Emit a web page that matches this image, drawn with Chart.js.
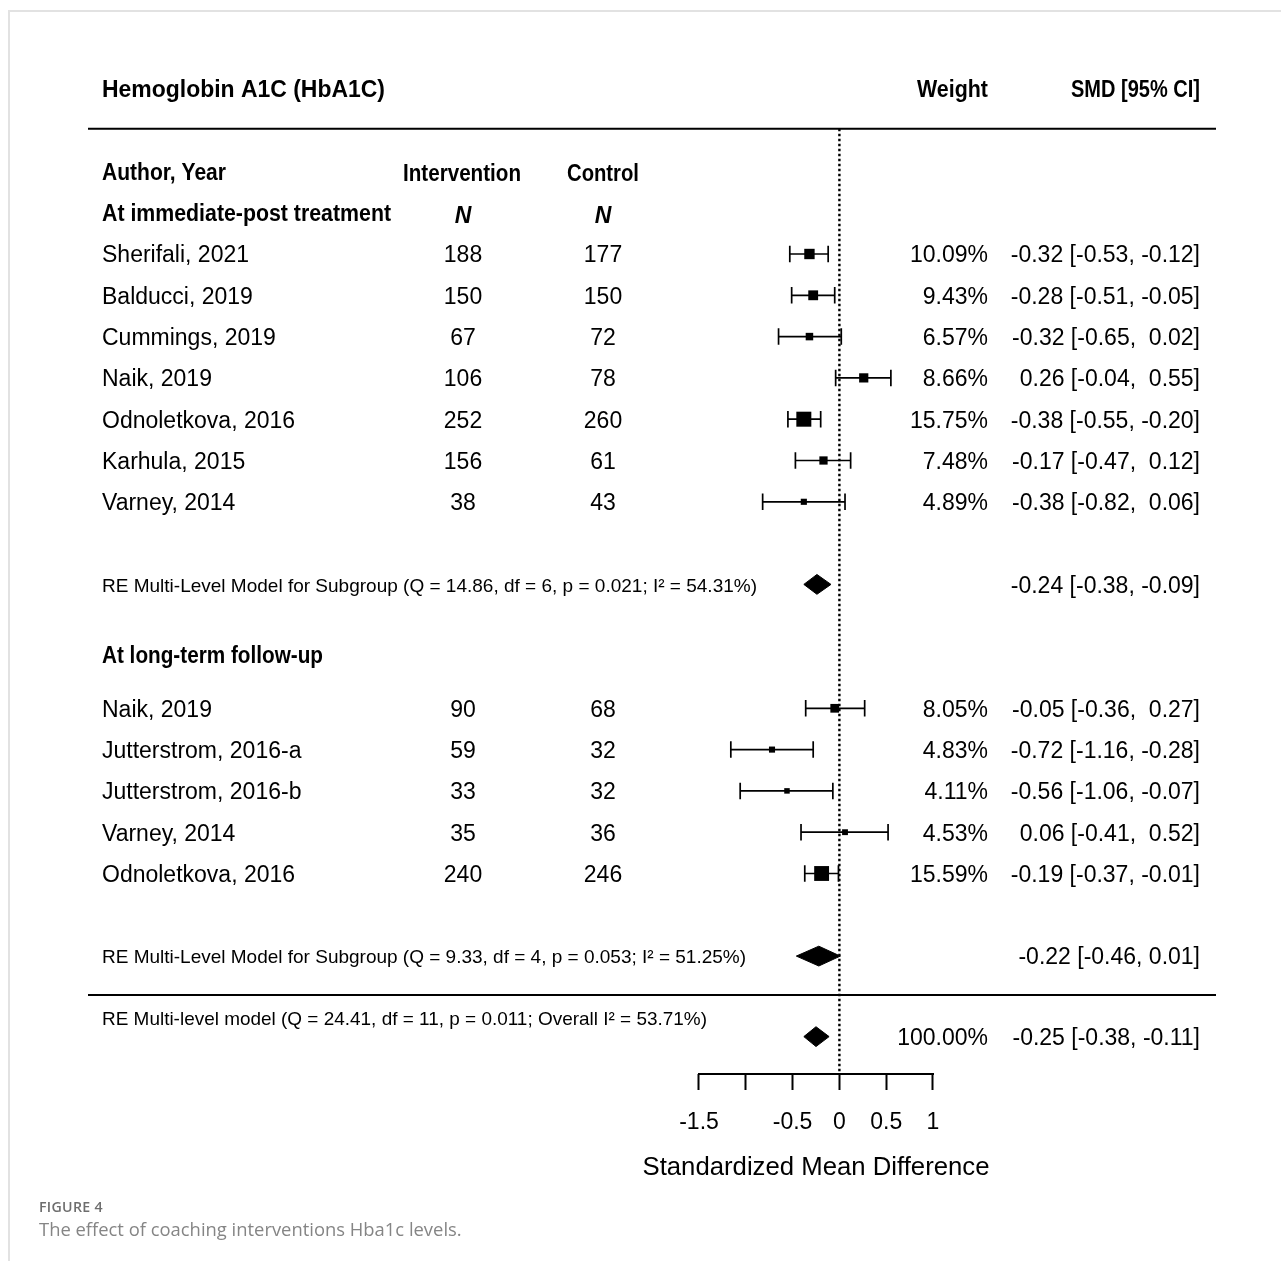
<!DOCTYPE html>
<html lang="en">
<head>
  <meta charset="UTF-8">
  <title>Hemoglobin A1C forest plot</title>
  <script src="https://cdn.jsdelivr.net/npm/chart.js"></script>
  <style>
    html, body { margin: 0; padding: 0; background: #fff; }
    body { width: 1281px; height: 1261px; position: relative; overflow: hidden; }
    #frame {
      position: absolute; left: 8px; top: 10px; right: 0; bottom: 0;
      border-top: 2px solid #e2e2e2; border-left: 2px solid #e2e2e2;
    }
    #forest { position: absolute; left: 0; top: 0; }
    .caption { position: absolute; left: 39px; font-family: "Open Sans", Lato, sans-serif; }
    #figNo { top: 1197px; font-size: 14.2px; font-weight: 600; color: #6e6e6e; letter-spacing: 0.3px; }
    #figText { top: 1216px; font-size: 18.4px; color: #858585; }
  </style>
</head>
<body>
<div id="frame"></div>
<canvas id="forest" width="1281" height="1261"></canvas>
<div class="caption" id="figNo">FIGURE 4</div>
<div class="caption" id="figText">The effect of coaching interventions Hba1c levels.</div>

<script>
  // immediate-post treatment
  const studiesOne = ['Sherifali, 2021', 'Balducci, 2019', 'Cummings, 2019', 'Naik, 2019',
    'Odnoletkova, 2016', 'Karhula, 2015', 'Varney, 2014'];
  const nInterventionOne = [188, 150, 67, 106, 252, 156, 38];
  const nControlOne = [177, 150, 72, 78, 260, 61, 43];
  const weightOne = [10.09, 9.43, 6.57, 8.66, 15.75, 7.48, 4.89];
  const smdOne = [-0.32, -0.28, -0.32, 0.26, -0.38, -0.17, -0.38];
  const lowerOne = [-0.53, -0.51, -0.65, -0.04, -0.55, -0.47, -0.82];
  const upperOne = [-0.12, -0.05, 0.02, 0.55, -0.20, 0.12, 0.06];

  // long-term follow-up
  const studiesTwo = ['Naik, 2019', 'Jutterstrom, 2016-a', 'Jutterstrom, 2016-b', 'Varney, 2014', 'Odnoletkova, 2016'];
  const nInterventionTwo = [90, 59, 33, 35, 240];
  const nControlTwo = [68, 32, 32, 36, 246];
  const weightTwo = [8.05, 4.83, 4.11, 4.53, 15.59];
  const smdTwo = [-0.05, -0.72, -0.56, 0.06, -0.19];
  const lowerTwo = [-0.36, -1.16, -1.06, -0.41, -0.37];
  const upperTwo = [0.27, -0.28, -0.07, 0.52, -0.01];

  // pooled estimates: subgroup 1, subgroup 2, overall
  const pooledLabels = [
    'RE Multi-Level Model for Subgroup (Q = 14.86, df = 6, p = 0.021; I\u00b2 = 54.31%)',
    'RE Multi-Level Model for Subgroup (Q = 9.33, df = 4, p = 0.053; I\u00b2 = 51.25%)',
    'RE Multi-level model (Q = 24.41, df = 11, p = 0.011; Overall I\u00b2 = 53.71%)'
  ];
  const pooledSmd = [-0.24, -0.22, -0.25];
  const pooledLower = [-0.38, -0.46, -0.38];
  const pooledUpper = [-0.09, 0.01, -0.11];
  const pooledWeight = [null, null, 100.00];

  const tickValues = [-1.5, -1, -0.5, 0, 0.5, 1];
  const tickLabels = ['-1.5', '', '-0.5', '0', '0.5', '1'];

  // row layout (one unit = one study line)
  const rowsOne = studiesOne.map((s, i) => i);
  const rowsTwo = studiesTwo.map((s, i) => 11 + i);
  const pooledRows = [8, 17, 18.95];
  const pooledTextRows = [8, 17, 18.5];

  const FONT = '"Liberation Sans", Arial, sans-serif';
  const CAP = 0.2;       // half height of whisker caps, in rows
  const DIAMOND = 0.24;  // half height of the summary diamonds
  const TXT_DY = 2;      // 'middle' baseline sits a bit high for these glyphs

  const allRows = rowsOne.concat(rowsTwo);
  const allSmd = smdOne.concat(smdTwo);
  const allLower = lowerOne.concat(lowerTwo);
  const allUpper = upperOne.concat(upperTwo);
  const allWeight = weightOne.concat(weightTwo);
  const wMin = Math.min(...allWeight), wMax = Math.max(...allWeight);
  // square side grows linearly with weight (5.5px .. 15px)
  const boxRadius = allWeight.map(w => (5.5 + (w - wMin) / (wMax - wMin) * 9.5) / Math.SQRT2);

  let whiskers = [], caps = [];
  allRows.forEach((r, i) => {
    whiskers.push({x: allLower[i], y: r}, {x: allUpper[i], y: r}, {x: allUpper[i], y: null});
    caps.push({x: allLower[i], y: r - CAP}, {x: allLower[i], y: r + CAP}, {x: allLower[i], y: null});
    caps.push({x: allUpper[i], y: r - CAP}, {x: allUpper[i], y: r + CAP}, {x: allUpper[i], y: null});
  });

  let diamonds = pooledSmd.map((m, i) => ({
    data: [
      {x: pooledLower[i], y: pooledRows[i]},
      {x: m, y: pooledRows[i] - DIAMOND},
      {x: pooledUpper[i], y: pooledRows[i]},
      {x: m, y: pooledRows[i] + DIAMOND},
      {x: pooledLower[i], y: pooledRows[i]}
    ],
    borderColor: '#000',
    backgroundColor: '#000',
    borderWidth: 1,
    fill: 'shape',
    pointRadius: 0,
    tension: 0
  }));

  let fmt = v => v.toFixed(2);
  let ciText = (m, lo, hi, pad) => fmt(m) + ' [' + fmt(lo) + ', ' + (pad && hi >= 0 ? ' ' : '') + fmt(hi) + ']';

  // draw text squeezed/stretched to a given width; align = 'left' | 'center' | 'right'
  function fitText(ctx, text, x, y, width, align) {
    let w = ctx.measureText(text).width;
    let left = align === 'right' ? x - width : align === 'center' ? x - width / 2 : x;
    ctx.save();
    ctx.textAlign = 'left';
    ctx.translate(left, y);
    ctx.scale(width / w, 1);
    ctx.fillText(text, 0, 0);
    ctx.restore();
  }

  const forestText = {
    id: 'forestText',
    afterDraw(chart) {
      const ctx = chart.ctx;
      const xs = chart.scales.x, ys = chart.scales.y;
      const Y = r => ys.getPixelForValue(r);
      const T = r => ys.getPixelForValue(r) + TXT_DY;
      ctx.save();
      ctx.fillStyle = '#000';
      ctx.strokeStyle = '#000';
      ctx.textBaseline = 'middle';

      // rules
      ctx.lineWidth = 2;
      ctx.beginPath();
      ctx.moveTo(88, Y(-3.03)); ctx.lineTo(1216, Y(-3.03));
      ctx.moveTo(88, Y(17.94)); ctx.lineTo(1216, Y(17.94));
      // axis line
      let axisY = chart.chartArea.bottom;
      ctx.moveTo(xs.getPixelForValue(tickValues[0]) - 1, axisY);
      ctx.lineTo(xs.getPixelForValue(tickValues[tickValues.length - 1]) + 1, axisY);
      ctx.stroke();

      // header (bold text in the figure is a little condensed)
      ctx.font = 'bold 23px ' + FONT;
      fitText(ctx, 'Hemoglobin A1C (HbA1C)', 102, T(-4), 283, 'left');
      fitText(ctx, 'Author, Year', 102, T(-2), 124, 'left');
      fitText(ctx, 'At immediate-post treatment', 102, T(-1), 289, 'left');
      fitText(ctx, 'At long-term follow-up', 102, T(9.7), 221, 'left');
      fitText(ctx, 'Weight', 988, T(-4), 71, 'right');
      fitText(ctx, 'SMD [95% CI]', 1200, T(-4), 129, 'right');
      fitText(ctx, 'Intervention', 462, T(-1.98), 118, 'center');
      fitText(ctx, 'Control', 603, T(-1.98), 72, 'center');
      ctx.font = 'italic bold 23px ' + FONT;
      ctx.textAlign = 'center';
      ctx.fillText('N', 463, T(-0.95));
      ctx.fillText('N', 603, T(-0.95));

      // study rows
      ctx.font = '23px ' + FONT;
      const names = studiesOne.concat(studiesTwo);
      const nInt = nInterventionOne.concat(nInterventionTwo);
      const nCtl = nControlOne.concat(nControlTwo);
      allRows.forEach((r, i) => {
        let y = T(r);
        ctx.textAlign = 'left';
        ctx.fillText(names[i], 102, y);
        ctx.textAlign = 'center';
        ctx.fillText(String(nInt[i]), 463, y);
        ctx.fillText(String(nCtl[i]), 603, y);
        ctx.textAlign = 'right';
        ctx.fillText(allWeight[i].toFixed(2) + '%', 988, y);
        ctx.fillText(ciText(allSmd[i], allLower[i], allUpper[i], true), 1200, y);
      });

      // pooled rows
      const labelWidths = [655, 644, 605];
      pooledLabels.forEach((t, i) => {
        ctx.font = '19px ' + FONT;
        fitText(ctx, t, 102, T(pooledTextRows[i]), labelWidths[i], 'left');
        ctx.font = '23px ' + FONT;
        ctx.textAlign = 'right';
        ctx.fillText(ciText(pooledSmd[i], pooledLower[i], pooledUpper[i], false), 1200, T(pooledRows[i]));
        if (pooledWeight[i] !== null) ctx.fillText(pooledWeight[i].toFixed(2) + '%', 988, T(pooledRows[i]));
      });

      // axis title
      ctx.font = '26px ' + FONT;
      let mid = (xs.getPixelForValue(tickValues[0]) + xs.getPixelForValue(tickValues[tickValues.length - 1])) / 2;
      fitText(ctx, 'Standardized Mean Difference', mid, 1166 + TXT_DY, 347, 'center');
      ctx.restore();
    }
  };

  let ctx = document.getElementById('forest').getContext('2d');
  let forest = new Chart(ctx, {
    type: 'line',
    data: {
      datasets: [{
        label: 'SMD',
        data: allRows.map((r, i) => ({x: allSmd[i], y: r})),
        showLine: false,
        pointStyle: 'rect',
        pointRadius: boxRadius,
        pointBackgroundColor: '#000',
        pointBorderWidth: 0
      }, {
        label: 'CI',
        data: whiskers,
        borderColor: '#000',
        borderWidth: 1.7,
        pointRadius: 0,
        spanGaps: false
      }, {
        label: 'caps',
        data: caps,
        borderColor: '#000',
        borderWidth: 1.7,
        pointRadius: 0,
        spanGaps: false
      }].concat(diamonds).concat([{
        label: 'no effect',
        data: [{x: 0, y: -3.03}, {x: 0, y: 19.86}],
        borderColor: '#000',
        borderWidth: 2.4,
        borderDash: [2.5, 2.5],
        pointRadius: 0
      }])
    },
    options: {
      responsive: false,
      devicePixelRatio: 1,
      animation: false,
      events: [],
      layout: { padding: 0, autoPadding: false },
      plugins: { legend: { display: false }, tooltip: { enabled: false } },
      scales: {
        x: {
          type: 'linear',
          position: 'bottom',
          min: -8.968,
          max: 4.718,
          afterFit: s => { s.height = 187; },
          afterBuildTicks: s => { s.ticks = tickValues.map(v => ({ value: v })); },
          border: { display: false },
          grid: { drawOnChartArea: false, drawTicks: true, tickLength: 16, tickWidth: 2, tickColor: '#000' },
          ticks: {
            autoSkip: false,
            maxRotation: 0,
            minRotation: 0,
            padding: 19,
            color: '#000',
            font: { family: FONT, size: 23 },
            callback: (v, i) => tickLabels[i]
          }
        },
        y: {
          type: 'linear',
          display: false,
          reverse: true,
          min: -6.15,
          max: 19.855
        }
      }
    },
    plugins: [forestText]
  });
</script>
</body>
</html>
